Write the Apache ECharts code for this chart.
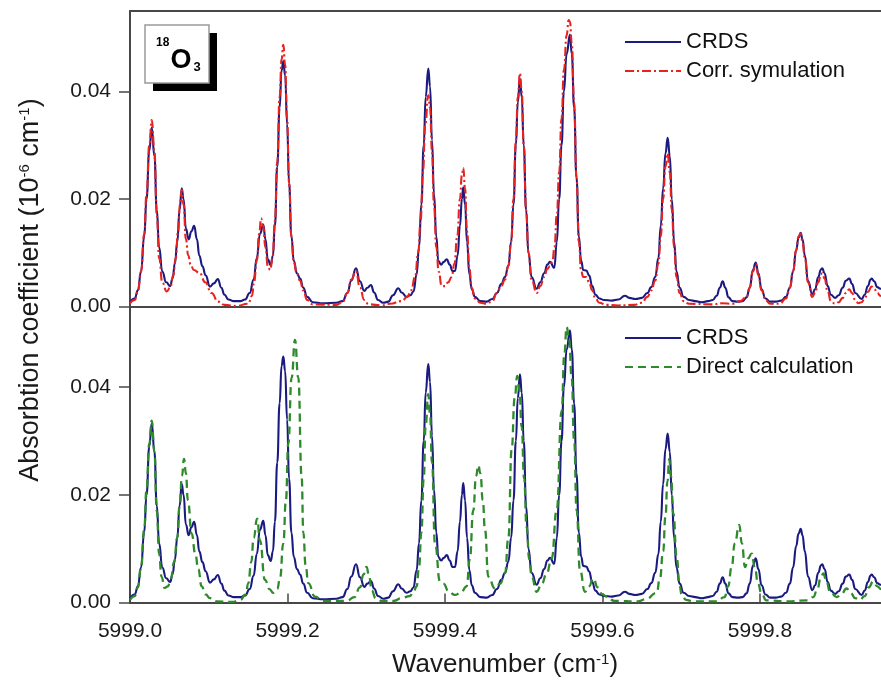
<!DOCTYPE html>
<html>
<head>
<meta charset="utf-8">
<script src="https://cdn.jsdelivr.net/npm/echarts@6/dist/echarts.min.js"></script>
<style>
  html, body { margin: 0; padding: 0; background: #ffffff; }
  #chart { width: 881px; height: 685px; }
</style>
</head>
<body>
<div id="chart"></div>
<script>
// ---- Data ----
const xTickValues = [5999.0, 5999.2, 5999.4, 5999.6, 5999.8];
const yTickValues = [0.00, 0.02, 0.04];

// CRDS measured spectrum (shown in both panels)
const crdsWavenumber = [
  5999.000, 5999.006, 5999.010, 5999.014, 5999.018, 5999.021, 5999.0245, 5999.0276, 5999.031, 5999.034,
  5999.037, 5999.041, 5999.046, 5999.051, 5999.054, 5999.057, 5999.060, 5999.063, 5999.0657, 5999.068,
  5999.071, 5999.0745, 5999.078, 5999.0815, 5999.085, 5999.088, 5999.092, 5999.096, 5999.1016, 5999.1065,
  5999.1115, 5999.116, 5999.120, 5999.125, 5999.132, 5999.140, 5999.146, 5999.152, 5999.157, 5999.161,
  5999.165, 5999.1693, 5999.172, 5999.175, 5999.1787, 5999.1815, 5999.184, 5999.187, 5999.190, 5999.1925,
  5999.1947, 5999.197, 5999.1995, 5999.202, 5999.205, 5999.208, 5999.212, 5999.216, 5999.220, 5999.225,
  5999.232, 5999.245, 5999.262, 5999.270, 5999.276, 5999.281, 5999.287, 5999.292, 5999.2975, 5999.3015,
  5999.306, 5999.310, 5999.315, 5999.3217, 5999.328, 5999.334, 5999.3407, 5999.345, 5999.3513, 5999.356,
  5999.360, 5999.364, 5999.367, 5999.370, 5999.373, 5999.3755, 5999.3788, 5999.381, 5999.3835, 5999.386,
  5999.389, 5999.3915, 5999.395, 5999.3985, 5999.4022, 5999.406, 5999.4095, 5999.4127, 5999.416, 5999.419,
  5999.4215, 5999.4232, 5999.4255, 5999.428, 5999.431, 5999.434, 5999.438, 5999.445, 5999.453, 5999.460,
  5999.466, 5999.4715, 5999.4762, 5999.4805, 5999.484, 5999.487, 5999.490, 5999.4925, 5999.4952, 5999.4975,
  5999.500, 5999.503, 5999.506, 5999.510, 5999.5164, 5999.521, 5999.526, 5999.530, 5999.5333, 5999.5388,
  5999.542, 5999.545, 5999.548, 5999.551, 5999.5545, 5999.5587, 5999.561, 5999.564, 5999.567, 5999.570,
  5999.573, 5999.5756, 5999.5795, 5999.583, 5999.587, 5999.591, 5999.596, 5999.602, 5999.612, 5999.620,
  5999.6286, 5999.634, 5999.642, 5999.650, 5999.657, 5999.662, 5999.667, 5999.671, 5999.674, 5999.677,
  5999.680, 5999.6828, 5999.6855, 5999.688, 5999.691, 5999.694, 5999.698, 5999.703, 5999.710, 5999.718,
  5999.726, 5999.734, 5999.740, 5999.745, 5999.749, 5999.7526, 5999.756, 5999.760, 5999.765, 5999.772,
  5999.778, 5999.783, 5999.787, 5999.791, 5999.7946, 5999.798, 5999.802, 5999.807, 5999.813, 5999.820,
  5999.827, 5999.833, 5999.838, 5999.842, 5999.846, 5999.849, 5999.8517, 5999.854, 5999.857, 5999.861,
  5999.8664, 5999.870, 5999.874, 5999.8775, 5999.8791, 5999.882, 5999.886, 5999.890, 5999.8953, 5999.900,
  5999.905, 5999.909, 5999.9134, 5999.917, 5999.921, 5999.9291, 5999.933, 5999.937, 5999.9405, 5999.9418,
  5999.945, 5999.949, 5999.953, 5999.956
];
const crdsAbsorption = [
  0.0008, 0.0015, 0.0030, 0.0065, 0.0130, 0.0200, 0.0290, 0.0333, 0.0280, 0.0180,
  0.0110, 0.0065, 0.0045, 0.0038, 0.0052, 0.0080, 0.0120, 0.0180, 0.0220, 0.0200,
  0.0145, 0.0125, 0.0140, 0.0150, 0.0125, 0.0095, 0.0075, 0.0058, 0.0037, 0.0043,
  0.0051, 0.0035, 0.0022, 0.0013, 0.0010, 0.0010, 0.0013, 0.0025, 0.0050, 0.0090,
  0.0135, 0.0152, 0.0125, 0.0088, 0.0077, 0.0095, 0.0150, 0.0260, 0.0370, 0.0440,
  0.0457, 0.0430, 0.0340, 0.0230, 0.0130, 0.0085, 0.0062, 0.0052, 0.0035, 0.0018,
  0.0008, 0.0006, 0.0007, 0.0010, 0.0025, 0.0048, 0.0071, 0.0047, 0.0029, 0.0035,
  0.0040, 0.0026, 0.0012, 0.0007, 0.0009, 0.0021, 0.0034, 0.0026, 0.0018, 0.0021,
  0.0028, 0.0060, 0.0110, 0.0190, 0.0300, 0.0390, 0.0443, 0.0410, 0.0310, 0.0210,
  0.0130, 0.0085, 0.0078, 0.0083, 0.0088, 0.0078, 0.0066, 0.0066, 0.0095, 0.0150,
  0.0200, 0.0222, 0.0190, 0.0120, 0.0060, 0.0032, 0.0018, 0.0010, 0.0009, 0.0014,
  0.0025, 0.0042, 0.0055, 0.0076, 0.0120, 0.0190, 0.0300, 0.0380, 0.0424, 0.0390,
  0.0300, 0.0180, 0.0100, 0.0055, 0.0033, 0.0045, 0.0062, 0.0078, 0.0083, 0.0072,
  0.0120, 0.0200, 0.0300, 0.0400, 0.0470, 0.0506, 0.0470, 0.0370, 0.0240, 0.0130,
  0.0085, 0.0068, 0.0067, 0.0058, 0.0038, 0.0022, 0.0015, 0.0012, 0.0011, 0.0013,
  0.0020, 0.0016, 0.0014, 0.0016, 0.0025, 0.0036, 0.0055, 0.0090, 0.0150, 0.0220,
  0.0285, 0.0314, 0.0280, 0.0200, 0.0120, 0.0065, 0.0035, 0.0018, 0.0012, 0.0010,
  0.0008, 0.0010, 0.0012, 0.0020, 0.0035, 0.0047, 0.0035, 0.0017, 0.0010, 0.0009,
  0.0010, 0.0017, 0.0035, 0.0068, 0.0082, 0.0062, 0.0032, 0.0015, 0.0009, 0.0009,
  0.0011, 0.0018, 0.0035, 0.0065, 0.0105, 0.0128, 0.0137, 0.0125, 0.0095, 0.0048,
  0.0023, 0.0032, 0.0055, 0.0069, 0.0071, 0.0062, 0.0038, 0.0022, 0.0016, 0.0021,
  0.0035, 0.0048, 0.0052, 0.0042, 0.0025, 0.0014, 0.0022, 0.0038, 0.0050, 0.0052,
  0.0047, 0.0036, 0.0033, 0.0032
];

// Corrected simulation (top panel)
const simWavenumber = [
  5999.000, 5999.006, 5999.010, 5999.014, 5999.018, 5999.021, 5999.0245, 5999.0276, 5999.031, 5999.034,
  5999.037, 5999.041, 5999.0466, 5999.051, 5999.055, 5999.058, 5999.061, 5999.0635, 5999.0657, 5999.068,
  5999.071, 5999.074, 5999.077, 5999.081, 5999.0885, 5999.0955, 5999.1035, 5999.112, 5999.120, 5999.135,
  5999.150, 5999.155, 5999.1575, 5999.161, 5999.164, 5999.1665, 5999.169, 5999.172, 5999.175, 5999.178,
  5999.181, 5999.184, 5999.187, 5999.190, 5999.1925, 5999.1947, 5999.197, 5999.1995, 5999.202, 5999.205,
  5999.208, 5999.212, 5999.216, 5999.220, 5999.225, 5999.232, 5999.262, 5999.270, 5999.276, 5999.281,
  5999.287, 5999.292, 5999.2975, 5999.303, 5999.320, 5999.330, 5999.345, 5999.352, 5999.357, 5999.362,
  5999.366, 5999.369, 5999.372, 5999.375, 5999.3788, 5999.381, 5999.3835, 5999.386, 5999.389, 5999.392,
  5999.3958, 5999.400, 5999.404, 5999.4085, 5999.412, 5999.4155, 5999.419, 5999.4215, 5999.4232, 5999.4255,
  5999.428, 5999.431, 5999.434, 5999.438, 5999.445, 5999.453, 5999.460, 5999.466, 5999.4715, 5999.4762,
  5999.4805, 5999.484, 5999.487, 5999.490, 5999.4925, 5999.4952, 5999.4975, 5999.500, 5999.503, 5999.506,
  5999.510, 5999.5164, 5999.521, 5999.526, 5999.530, 5999.5333, 5999.5365, 5999.539, 5999.542, 5999.545,
  5999.548, 5999.551, 5999.5545, 5999.557, 5999.5587, 5999.561, 5999.564, 5999.567, 5999.570, 5999.573,
  5999.5756, 5999.5795, 5999.583, 5999.587, 5999.591, 5999.596, 5999.605, 5999.620, 5999.640, 5999.650,
  5999.657, 5999.662, 5999.667, 5999.671, 5999.674, 5999.677, 5999.680, 5999.6828, 5999.6855, 5999.688,
  5999.691, 5999.694, 5999.698, 5999.703, 5999.710, 5999.740, 5999.752, 5999.765, 5999.775, 5999.783,
  5999.787, 5999.791, 5999.7946, 5999.798, 5999.802, 5999.807, 5999.813, 5999.825, 5999.833, 5999.838,
  5999.842, 5999.846, 5999.849, 5999.8517, 5999.854, 5999.857, 5999.861, 5999.8664, 5999.870, 5999.874,
  5999.8775, 5999.8791, 5999.882, 5999.886, 5999.890, 5999.8953, 5999.900, 5999.905, 5999.909, 5999.9134,
  5999.917, 5999.921, 5999.925, 5999.929, 5999.933, 5999.937, 5999.9418, 5999.945, 5999.949, 5999.953,
  5999.956
];
const simAbsorption = [
  0.0006, 0.0012, 0.0028, 0.0065, 0.0135, 0.0210, 0.0300, 0.0347, 0.0290, 0.0170,
  0.0090, 0.0045, 0.0028, 0.0035, 0.0058, 0.0090, 0.0140, 0.0190, 0.0217, 0.0190,
  0.0125, 0.0095, 0.0078, 0.0068, 0.0062, 0.0045, 0.0025, 0.0009, 0.0003, 0.0001,
  0.0005, 0.0020, 0.0045, 0.0085, 0.0135, 0.0164, 0.0150, 0.0110, 0.0075, 0.0068,
  0.0090, 0.0160, 0.0270, 0.0390, 0.0460, 0.0487, 0.0450, 0.0350, 0.0230, 0.0130,
  0.0082, 0.0060, 0.0048, 0.0030, 0.0012, 0.0004, 0.0003, 0.0008, 0.0025, 0.0050,
  0.0066, 0.0035, 0.0012, 0.0004, 0.0002, 0.0005, 0.0010, 0.0018, 0.0030, 0.0055,
  0.0100, 0.0160, 0.0250, 0.0340, 0.0393, 0.0370, 0.0290, 0.0190, 0.0110, 0.0065,
  0.0038, 0.0038, 0.0045, 0.0055, 0.0080, 0.0130, 0.0200, 0.0245, 0.0258, 0.0220,
  0.0140, 0.0070, 0.0035, 0.0015, 0.0007, 0.0005, 0.0010, 0.0025, 0.0038, 0.0050,
  0.0075, 0.0120, 0.0200, 0.0310, 0.0390, 0.0434, 0.0400, 0.0300, 0.0180, 0.0100,
  0.0050, 0.0025, 0.0038, 0.0055, 0.0070, 0.0075, 0.0085, 0.0110, 0.0170, 0.0250,
  0.0350, 0.0440, 0.0505, 0.0533, 0.0530, 0.0490, 0.0380, 0.0240, 0.0120, 0.0065,
  0.0055, 0.0055, 0.0045, 0.0030, 0.0015, 0.0007, 0.0003, 0.0002, 0.0003, 0.0007,
  0.0018, 0.0030, 0.0048, 0.0080, 0.0130, 0.0200, 0.0260, 0.0285, 0.0250, 0.0180,
  0.0110, 0.0055, 0.0025, 0.0010, 0.0005, 0.0004, 0.0006, 0.0005, 0.0010, 0.0018,
  0.0035, 0.0065, 0.0079, 0.0058, 0.0030, 0.0012, 0.0005, 0.0005, 0.0015, 0.0035,
  0.0065, 0.0105, 0.0130, 0.0136, 0.0120, 0.0090, 0.0045, 0.0018, 0.0025, 0.0045,
  0.0060, 0.0062, 0.0052, 0.0028, 0.0010, 0.0005, 0.0008, 0.0016, 0.0025, 0.0032,
  0.0025, 0.0012, 0.0006, 0.0008, 0.0015, 0.0027, 0.0037, 0.0033, 0.0025, 0.0020,
  0.0018
];

// Direct calculation (bottom panel)
const calcWavenumber = [
  5999.000, 5999.006, 5999.010, 5999.014, 5999.018, 5999.021, 5999.0245, 5999.0276, 5999.031, 5999.034,
  5999.037, 5999.040, 5999.044, 5999.048, 5999.052, 5999.056, 5999.060, 5999.063, 5999.066, 5999.0686,
  5999.071, 5999.0735, 5999.0783, 5999.083, 5999.0867, 5999.091, 5999.096, 5999.1016, 5999.110, 5999.130,
  5999.140, 5999.147, 5999.1502, 5999.154, 5999.157, 5999.1615, 5999.165, 5999.1714, 5999.177, 5999.182,
  5999.187, 5999.1905, 5999.1947, 5999.198, 5999.201, 5999.2053, 5999.2095, 5999.2137, 5999.218, 5999.2201,
  5999.223, 5999.2264, 5999.2349, 5999.245, 5999.275, 5999.285, 5999.292, 5999.2965, 5999.3004, 5999.3035,
  5999.307, 5999.312, 5999.320, 5999.335, 5999.345, 5999.355, 5999.360, 5999.364, 5999.367, 5999.370,
  5999.373, 5999.3755, 5999.3788, 5999.381, 5999.3835, 5999.3873, 5999.3937, 5999.3979, 5999.405, 5999.4127,
  5999.420, 5999.4275, 5999.4315, 5999.4359, 5999.4395, 5999.4423, 5999.445, 5999.448, 5999.4508, 5999.455,
  5999.4635, 5999.470, 5999.4762, 5999.4805, 5999.4847, 5999.4885, 5999.4918, 5999.4945, 5999.4974, 5999.5005,
  5999.5037, 5999.507, 5999.5101, 5999.5164, 5999.523, 5999.5291, 5999.5355, 5999.5418, 5999.5482, 5999.5515,
  5999.5545, 5999.5575, 5999.5609, 5999.564, 5999.5672, 5999.5714, 5999.5778, 5999.583, 5999.5883, 5999.594,
  5999.600, 5999.6053, 5999.615, 5999.645, 5999.655, 5999.6688, 5999.673, 5999.677, 5999.680, 5999.6825,
  5999.6848, 5999.687, 5999.690, 5999.6942, 5999.698, 5999.7005, 5999.706, 5999.715, 5999.745, 5999.755,
  5999.7595, 5999.7641, 5999.768, 5999.7737, 5999.777, 5999.781, 5999.785, 5999.7895, 5999.7935, 5999.7975,
  5999.8021, 5999.808, 5999.835, 5999.860, 5999.8677, 5999.873, 5999.877, 5999.8804, 5999.884, 5999.889,
  5999.8974, 5999.903, 5999.9101, 5999.915, 5999.921, 5999.927, 5999.933, 5999.938, 5999.9439, 5999.949,
  5999.9537, 5999.956
];
const calcAbsorption = [
  0.0005, 0.0012, 0.0028, 0.0065, 0.0135, 0.0210, 0.0295, 0.0338, 0.0280, 0.0170,
  0.0090, 0.0048, 0.0027, 0.0030, 0.0045, 0.0075, 0.0120, 0.0180, 0.0235, 0.0267,
  0.0240, 0.0190, 0.0128, 0.0090, 0.0062, 0.0030, 0.0015, 0.0008, 0.0002, 0.0001,
  0.0005, 0.0015, 0.0036, 0.0075, 0.0120, 0.0156, 0.0115, 0.0042, 0.0025, 0.0018,
  0.0025, 0.0045, 0.0110, 0.0190, 0.0295, 0.0418, 0.0488, 0.0418, 0.0233, 0.0130,
  0.0070, 0.0036, 0.0011, 0.0003, 0.0003, 0.0010, 0.0028, 0.0052, 0.0066, 0.0050,
  0.0022, 0.0008, 0.0003, 0.0003, 0.0008, 0.0012, 0.0018, 0.0030, 0.0065, 0.0130,
  0.0230, 0.0330, 0.0387, 0.0350, 0.0260, 0.0110, 0.0039, 0.0035, 0.0020, 0.0014,
  0.0018, 0.0030, 0.0080, 0.0171, 0.0235, 0.0255, 0.0240, 0.0190, 0.0135, 0.0048,
  0.0026, 0.0035, 0.0054, 0.0120, 0.0285, 0.0380, 0.0421, 0.0395, 0.0326, 0.0230,
  0.0140, 0.0080, 0.0048, 0.0020, 0.0035, 0.0054, 0.0082, 0.0171, 0.0356, 0.0460,
  0.0512, 0.0490, 0.0418, 0.0300, 0.0171, 0.0060, 0.0020, 0.0030, 0.0045, 0.0028,
  0.0015, 0.0011, 0.0003, 0.0002, 0.0006, 0.0018, 0.0045, 0.0095, 0.0160, 0.0225,
  0.0267, 0.0235, 0.0165, 0.0085, 0.0030, 0.0015, 0.0005, 0.0002, 0.0002, 0.0010,
  0.0030, 0.0066, 0.0110, 0.0144, 0.0110, 0.0066, 0.0082, 0.0091, 0.0065, 0.0035,
  0.0016, 0.0004, 0.0002, 0.0004, 0.0010, 0.0025, 0.0045, 0.0054, 0.0042, 0.0020,
  0.0010, 0.0015, 0.0026, 0.0018, 0.0008, 0.0005, 0.0012, 0.0028, 0.0039, 0.0030,
  0.0025, 0.0023
];

// ---- Chart ----
function pairs(xs, ys) { return xs.map((x, i) => [x, ys[i]]); }

const FONT = 'Liberation Sans';
const AXIS_COLOR = '#474747';
const BLUE = '#1a1a80';
const RED = '#e8231f';
const GREEN = '#2f8a2c';
const X_MIN = 5999.0;
const X_MAX = 5999.9537;   // the plot is cut by the right edge of the picture
const Y_MAX = 0.055;

const chart = echarts.init(document.getElementById('chart'), null, { renderer: 'canvas' });

const axisLineStyle = { color: AXIS_COLOR, width: 2 };

function yAxisFor(gridIndex) {
  return {
    type: 'value', gridIndex, min: 0, max: Y_MAX,
    axisLine: { show: true, onZero: false, lineStyle: axisLineStyle },
    splitLine: { show: false },
    axisTick: { show: true, inside: false, length: 11, customValues: yTickValues,
                lineStyle: { color: AXIS_COLOR, width: 1.5 } },
    axisLabel: { show: true, margin: 19, customValues: yTickValues,
                 formatter: v => v.toFixed(2),
                 fontFamily: FONT, fontSize: 21, color: '#1a1a1a' }
  };
}

const legendCommon = {
  orient: 'vertical', left: 624, padding: 0,
  itemWidth: 56, itemHeight: 14, itemGap: 7, selectedMode: false,
  itemStyle: { color: 'rgba(0,0,0,0)', borderColor: 'rgba(0,0,0,0)', borderWidth: 0 },
  textStyle: { fontFamily: FONT, fontSize: 22, lineHeight: 22, color: '#111' }
};

const option = {
  animation: false,
  backgroundColor: '#ffffff',
  grid: [
    { left: 130, top: 11, right: 0, height: 295.5, show: false },
    { left: 130, top: 306.5, right: 0, height: 296, show: false }
  ],
  xAxis: [
    { type: 'value', gridIndex: 0, position: 'bottom', min: X_MIN, max: X_MAX,
      axisLine: { show: true, onZero: false, lineStyle: axisLineStyle },
      axisTick: { show: false }, axisLabel: { show: false }, splitLine: { show: false } },
    { type: 'value', gridIndex: 1, position: 'bottom', min: X_MIN, max: X_MAX,
      axisLine: { show: true, onZero: false, lineStyle: axisLineStyle }, splitLine: { show: false },
      axisTick: { show: true, inside: true, length: 9, customValues: xTickValues,
                  lineStyle: { color: AXIS_COLOR, width: 1.5 } },
      axisLabel: { show: true, margin: 18, customValues: xTickValues,
                   formatter: v => v.toFixed(1),
                   fontFamily: FONT, fontSize: 21, color: '#1a1a1a' } },
    { type: 'value', gridIndex: 0, position: 'top', min: X_MIN, max: X_MAX,
      axisLine: { show: true, onZero: false, lineStyle: axisLineStyle },
      axisTick: { show: false }, axisLabel: { show: false }, splitLine: { show: false } }
  ],
  yAxis: [yAxisFor(0), yAxisFor(1)],
  legend: [
    Object.assign({ data: ['CRDS', 'Corr. symulation'], top: 31 }, legendCommon),
    Object.assign({ data: ['CRDS', 'Direct calculation'], top: 327 }, legendCommon)
  ],
  series: [
    { name: 'CRDS', type: 'line', xAxisIndex: 0, yAxisIndex: 0, data: pairs(crdsWavenumber, crdsAbsorption),
      showSymbol: false, symbol: 'none', smooth: 0.5, smoothMonotone: 'x',
      lineStyle: { color: BLUE, width: 2.1 }, itemStyle: { color: BLUE }, z: 2 },
    { name: 'Corr. symulation', type: 'line', xAxisIndex: 0, yAxisIndex: 0, data: pairs(simWavenumber, simAbsorption),
      showSymbol: false, symbol: 'none', smooth: 0.5, smoothMonotone: 'x',
      lineStyle: { color: RED, width: 2.1, type: [9, 3, 2, 3] }, itemStyle: { color: RED }, z: 3 },
    { name: 'CRDS', type: 'line', xAxisIndex: 1, yAxisIndex: 1, data: pairs(crdsWavenumber, crdsAbsorption),
      showSymbol: false, symbol: 'none', smooth: 0.5, smoothMonotone: 'x',
      lineStyle: { color: BLUE, width: 2.1 }, itemStyle: { color: BLUE }, z: 2 },
    { name: 'Direct calculation', type: 'line', xAxisIndex: 1, yAxisIndex: 1, data: pairs(calcWavenumber, calcAbsorption),
      showSymbol: false, symbol: 'none', smooth: 0.5, smoothMonotone: 'x',
      lineStyle: { color: GREEN, width: 2.3, type: [8, 5] }, itemStyle: { color: GREEN }, z: 3 }
  ],
  graphic: [
    { type: 'text', x: 31, y: 290, rotation: Math.PI / 2, z: 10,
      style: { text: 'Absorbtion coefficient (10{sup|-6} cm{sup|-1})', align: 'center', verticalAlign: 'middle',
               fontFamily: FONT, fontSize: 27, fill: '#1a1a1a',
               rich: { sup: { fontFamily: FONT, fontSize: 15, verticalAlign: 'top', fill: '#1a1a1a' } } } },
    { type: 'text', x: 505, y: 665, z: 10,
      style: { text: 'Wavenumber (cm{sup|-1})', align: 'center', verticalAlign: 'middle',
               fontFamily: FONT, fontSize: 26, fill: '#1a1a1a',
               rich: { sup: { fontFamily: FONT, fontSize: 15, verticalAlign: 'top', fill: '#1a1a1a' } } } },
    { type: 'rect', z: 10, shape: { x: 153, y: 33, width: 64, height: 58 }, style: { fill: '#000000' } },
    { type: 'rect', z: 11, shape: { x: 145, y: 25, width: 64, height: 58 }, style: { fill: '#ffffff', stroke: '#9a9a9a', lineWidth: 1.5 } },
    { type: 'text', z: 12, x: 156, y: 43,
      style: { text: '18', fontFamily: FONT, fontWeight: 'bold', fontSize: 12, fill: '#000', align: 'left', verticalAlign: 'middle' } },
    { type: 'text', z: 12, x: 181, y: 61,
      style: { text: 'O', fontFamily: FONT, fontWeight: 'bold', fontSize: 27, fill: '#000', align: 'center', verticalAlign: 'middle' } },
    { type: 'text', z: 12, x: 197, y: 67,
      style: { text: '3', fontFamily: FONT, fontWeight: 'bold', fontSize: 13, fill: '#000', align: 'center', verticalAlign: 'middle' } }
  ]
};

chart.setOption(option);
</script>
</body>
</html>
